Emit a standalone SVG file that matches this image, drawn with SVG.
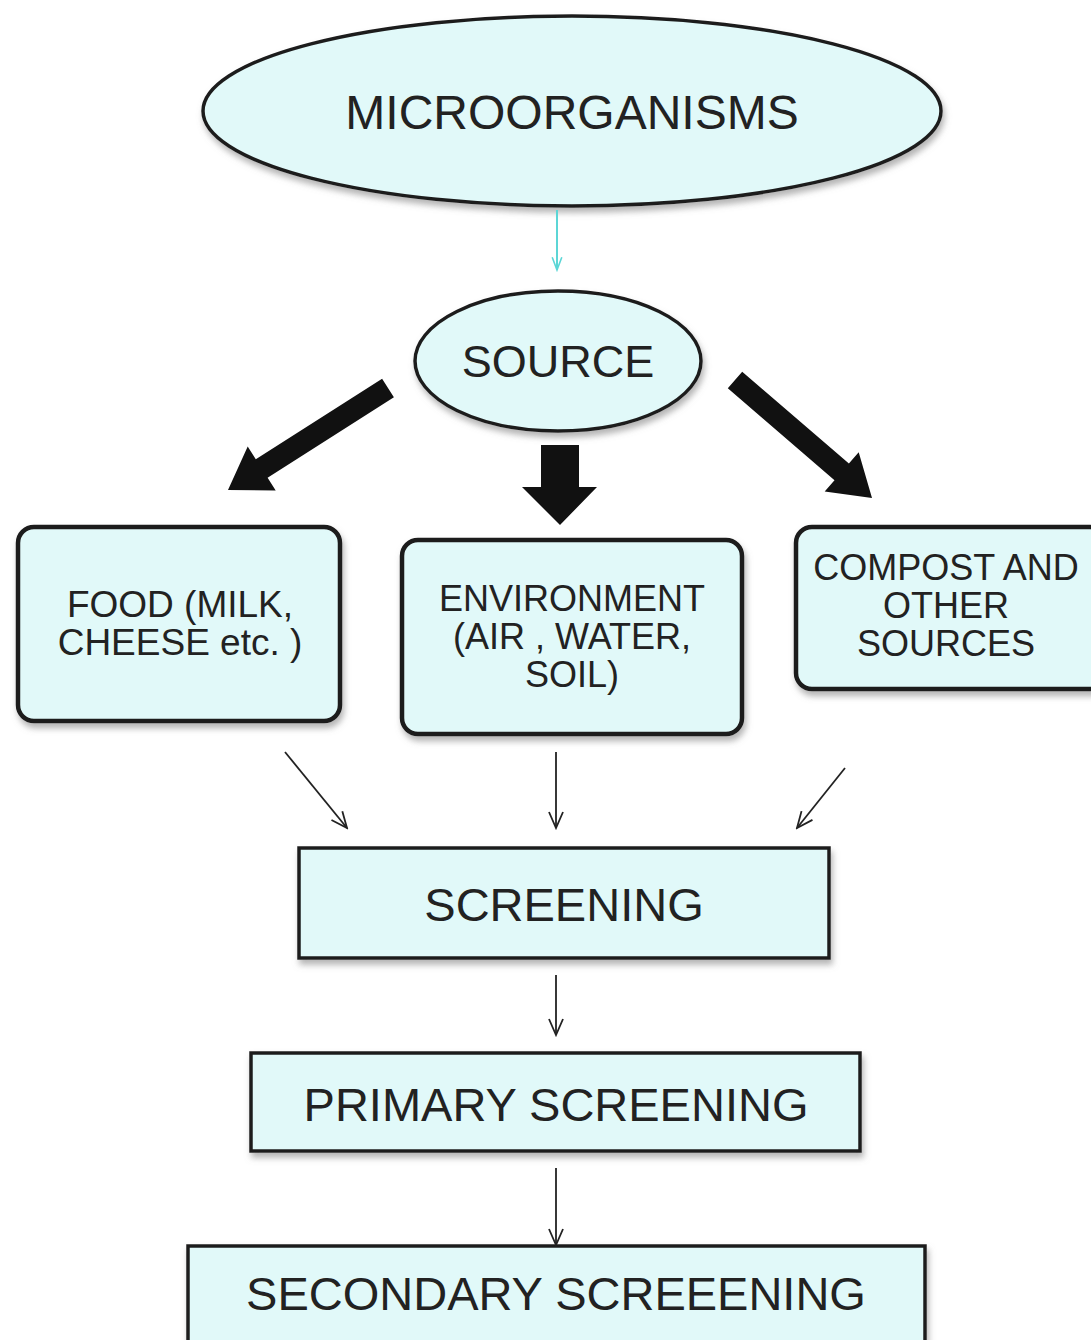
<svg xmlns="http://www.w3.org/2000/svg" width="1091" height="1340" viewBox="0 0 1091 1340">
  <defs>
    <filter id="shadow" x="-10%" y="-10%" width="120%" height="130%">
      <feDropShadow dx="2" dy="5" stdDeviation="3" flood-color="#777" flood-opacity="0.55"/>
    </filter>
    <marker id="vee" viewBox="0 0 20 20" refX="18" refY="10" markerWidth="20" markerHeight="20" markerUnits="userSpaceOnUse" orient="auto">
      <path d="M2,3 L18,10 L2,17" fill="none" stroke="#222" stroke-width="1.8"/>
    </marker>
    <marker id="vee-cyan" viewBox="0 0 20 20" refX="18" refY="10" markerWidth="16" markerHeight="16" markerUnits="userSpaceOnUse" orient="auto">
      <path d="M2,4 L18,10 L2,16" fill="none" stroke="#5cd6d6" stroke-width="2"/>
    </marker>
  </defs>
  <style>
    .shape { fill: #e1f9f9; stroke: #1e1e1e; stroke-width: 3.5; filter: url(#shadow); }
    .rounded { stroke-width: 4.5; }
    .label { font-family: "Liberation Sans", Arial, sans-serif; fill: #222; text-anchor: middle; }
    .thin { stroke: #222; stroke-width: 1.8; fill: none; marker-end: url(#vee); }
    .thick { fill: #111; stroke: none; }
  </style>
  <rect width="1091" height="1340" fill="#ffffff"/>

  <g id="microorganisms">
    <ellipse class="shape" cx="572" cy="111" rx="369" ry="95"/>
    <text class="label" x="572" y="129" font-size="48">MICROORGANISMS</text>
  </g>

  <g id="source">
    <ellipse class="shape" cx="558" cy="361" rx="143" ry="70"/>
    <text class="label" x="558" y="377" font-size="45">SOURCE</text>
  </g>

  <g id="food">
    <rect class="shape rounded" x="18" y="527" width="322" height="194" rx="16"/>
    <text class="label" font-size="37"><tspan x="180" y="617">FOOD (MILK,</tspan><tspan x="180" y="655">CHEESE etc. )</tspan></text>
  </g>

  <g id="environment">
    <rect class="shape rounded" x="402" y="540" width="340" height="194" rx="16"/>
    <text class="label" font-size="36"><tspan x="572" y="611">ENVIRONMENT</tspan><tspan x="572" y="649">(AIR , WATER,</tspan><tspan x="572" y="687">SOIL)</tspan></text>
  </g>

  <g id="compost">
    <rect class="shape rounded" x="796" y="527" width="310" height="162" rx="16"/>
    <text class="label" font-size="36"><tspan x="946" y="580">COMPOST AND</tspan><tspan x="946" y="618">OTHER</tspan><tspan x="946" y="656">SOURCES</tspan></text>
  </g>

  <g id="screening">
    <rect class="shape" x="299" y="848" width="530" height="110"/>
    <text class="label" x="564" y="921" font-size="47">SCREENING</text>
  </g>

  <g id="primary-screening">
    <rect class="shape" x="251" y="1053" width="609" height="98"/>
    <text class="label" x="556" y="1121" font-size="47">PRIMARY SCREENING</text>
  </g>

  <g id="secondary-screening">
    <rect class="shape" x="188" y="1246" width="737" height="110"/>
    <text class="label" x="556" y="1310" font-size="47">SECONDARY SCREEENING</text>
  </g>

  <g id="connectors">
    <!-- microorganisms to source -->
    <line x1="557" y1="210" x2="557" y2="270" stroke="#5cd6d6" stroke-width="2" marker-end="url(#vee-cyan)"/>
    <!-- source fan-out: block arrows -->
    <polygon class="thick" points="393.9,397.3 267.6,477.8 275.7,490.4 228,490 247.7,446.6 255.8,459.2 382.1,378.7"/>
    <polygon class="thick" points="541,445 579,445 579,487 597,487 560,525 522,487 541,487"/>
    <polygon class="thick" points="727.8,388.3 834.5,480.2 824.7,491.6 872,498 858.7,452.2 848.9,463.6 742.2,371.7"/>
    <!-- sources converge on screening -->
    <line class="thin" x1="285" y1="752" x2="347" y2="828"/>
    <line class="thin" x1="556" y1="752" x2="556" y2="828"/>
    <line class="thin" x1="845" y1="768" x2="797" y2="828"/>
    <!-- screening chain -->
    <line class="thin" x1="556" y1="975" x2="556" y2="1035"/>
    <line class="thin" x1="556" y1="1168" x2="556" y2="1245"/>
  </g>
</svg>
